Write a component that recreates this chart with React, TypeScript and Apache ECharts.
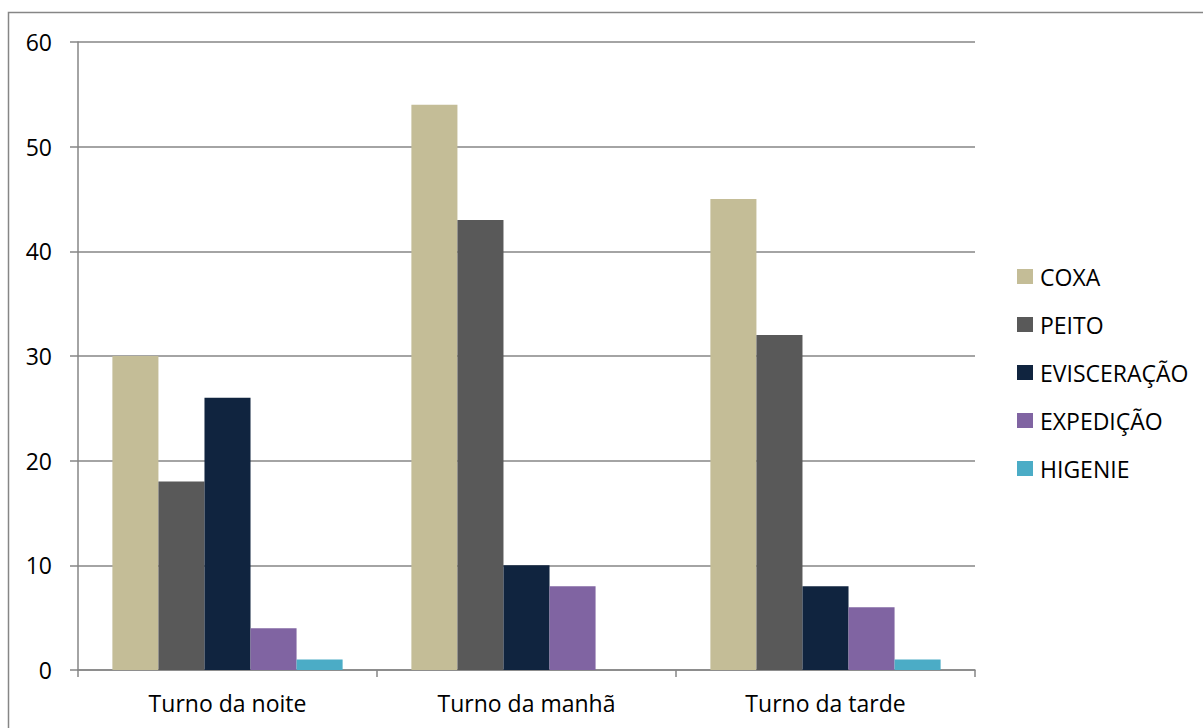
import React, { useEffect, useRef } from "react";
import * as echarts from "echarts";

const categories = ["Turno da noite", "Turno da manhã", "Turno da tarde"];
const seriesNames = ["COXA", "PEITO", "EVISCERAÇÃO", "EXPEDIÇÃO", "HIGENIE"];
const coxa = [30, 54, 45];
const peito = [18, 43, 32];
const evisceracao = [26, 10, 8];
const expedicao = [4, 8, 6];
const higenie = [1, 0, 1];
const colors = ["#C4BD97", "#595959", "#10243F", "#8064A2", "#4BACC6"];
const yTicks = [0, 10, 20, 30, 40, 50, 60];

const FONT = "Open Sans";
const FS = 23;

export default function App() {
  const ref = useRef<HTMLDivElement>(null);
  useEffect(() => {
    if (!ref.current) return;
    const chart = echarts.init(ref.current, undefined, { renderer: "svg" });
    const values = [coxa, peito, evisceracao, expedicao, higenie];
    chart.setOption({
      animation: false,
      textStyle: { fontFamily: FONT },
      graphic: [
        {
          type: "rect",
          shape: { x: 8.5, y: 12.5, width: 1400, height: 900 },
          style: { fill: "none", stroke: "#868686", lineWidth: 1.5 },
          silent: true,
        },
      ],
      grid: { left: 78, right: 228, top: 42, bottom: 58, containLabel: false },
      legend: {
        orient: "vertical",
        left: 1017,
        top: 265,
        padding: 0,
        itemWidth: 16,
        itemHeight: 15,
        itemGap: 25,
        icon: "rect",
        textStyle: { fontFamily: FONT, fontSize: FS, color: "#000", padding: [0, 0, 0, 2] },
        data: seriesNames,
      },
      xAxis: {
        type: "category",
        data: categories,
        axisLine: { lineStyle: { color: "#868686", width: 1.5 } },
        axisTick: { show: true, length: 7, lineStyle: { color: "#868686", width: 1.5 } },
        axisLabel: { fontFamily: FONT, fontSize: FS, color: "#000", margin: 21 },
      },
      yAxis: {
        type: "value",
        min: yTicks[0],
        max: yTicks[yTicks.length - 1],
        interval: 10,
        axisLine: { show: true, lineStyle: { color: "#868686", width: 1.5 } },
        axisTick: { show: true, length: 8, lineStyle: { color: "#868686", width: 1.5 } },
        splitLine: { lineStyle: { color: "#868686", width: 1.5 } },
        axisLabel: { fontFamily: FONT, fontSize: FS, color: "#000", margin: 26 },
      },
      series: seriesNames.map((name, i) => ({
        name,
        type: "bar",
        data: values[i],
        barGap: "0%",
        barCategoryGap: "23%",
        itemStyle: { color: colors[i] },
      })),
    });
    return () => chart.dispose();
  }, []);
  return (
    <div
      ref={ref}
      style={{ position: "fixed", left: 0, top: 0, width: 1203, height: 728, background: "#fff" }}
    />
  );
}
